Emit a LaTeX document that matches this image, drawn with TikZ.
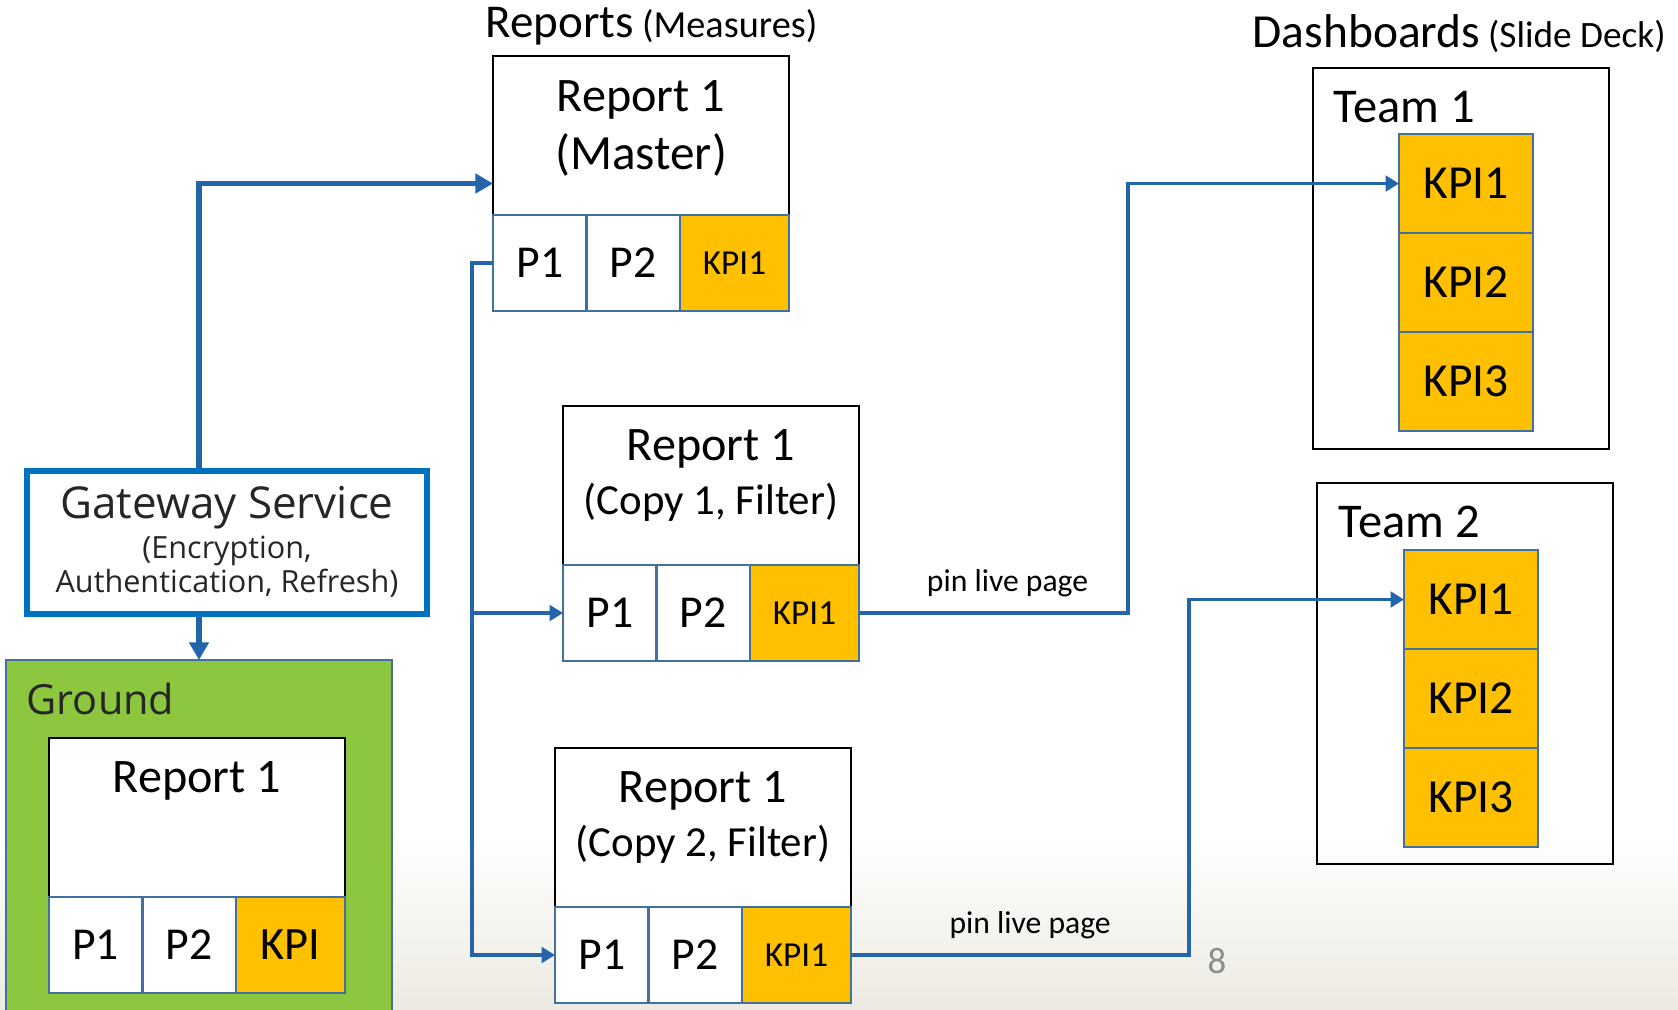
\documentclass[tikz,border=0pt]{standalone}
\usepackage{fontspec}
\setmainfont{Carlito}
\newfontfamily\segoe{Open Sans}
\usetikzlibrary{positioning,calc,arrows.meta}
\definecolor{kpiyel}{HTML}{FFC000}
\definecolor{cellblue}{HTML}{41719C}
\definecolor{linkblue}{HTML}{2364AA}
\definecolor{gwblue}{HTML}{0070C0}
\definecolor{grass}{HTML}{8DC63F}
\definecolor{paper}{HTML}{EDEAE2}

\begin{document}
\begin{tikzpicture}[
    head/.style={draw=black, line width=0.8pt, fill=white, outer sep=0pt, minimum width=2.96cm, minimum height=1.59cm, anchor=north west},
    headtxt/.style={inner sep=0pt, anchor=base, font=\fontsize{13.7}{16}\selectfont},
    subtxt/.style={headtxt, font=\fontsize{12.2}{15}\selectfont},
    cell/.style={draw=cellblue, line width=0.75pt, fill=white, outer sep=0pt, inner sep=0pt, minimum width=0.935cm, minimum height=0.96cm, font=\fontsize{13}{15}\selectfont},
    kpi/.style={cell, fill=kpiyel, minimum width=1.09cm, font=\fontsize{10}{12}\selectfont},
    bigkpi/.style={cell, fill=kpiyel, minimum width=1.34cm, minimum height=0.99cm, font=\fontsize{13.5}{16}\selectfont},
    team/.style={draw=black, line width=0.8pt, outer sep=0pt, minimum width=2.96cm, minimum height=3.81cm, anchor=north west},
    gwtxt/.style={inner sep=0pt, anchor=base, text=black!85, font=\segoe\fontsize{8.7}{10}\selectfont},
    flow/.style={draw=linkblue, line width=1pt, -{Triangle[length=3.8pt, width=4.4pt]}},
    gwflow/.style={flow, line width=1.6pt, -{Triangle[length=5pt, width=5.4pt]}},
    pinlbl/.style={inner sep=0pt, above=4.2pt, font=\fontsize{9}{11}\selectfont},
]
    \useasboundingbox (0,0) rectangle (16.78,10.09);
    \shade[top color=white, bottom color=paper] (0,0) rectangle (16.78,1.75);

    % titles
    \node[inner sep=0pt, anchor=base west] (reptitle) at (4.85,9.72) {{\fontsize{13.4}{16}\selectfont Reports} {\fontsize{10.9}{13}\selectfont (Measures)}};
    \node[inner sep=0pt, anchor=base west] (dashtitle) at (12.52,9.62) {{\fontsize{13.5}{16}\selectfont Dashboards} {\fontsize{10.6}{13}\selectfont (Slide Deck)}};

    % gateway and ground
    \node[draw=gwblue, line width=1.8pt, fill=white, minimum width=4cm, minimum height=1.43cm] (gw) at (2.27,4.665) {};
    \node[gwtxt, font=\segoe\fontsize{12.5}{15}\selectfont] (gwa) at (2.27,4.91) {Gateway Service};
    \node[gwtxt] (gwb) at (2.27,4.51) {(Encryption,};
    \node[gwtxt] (gwc) at (2.27,4.17) {Authentication, Refresh)};
    \node[draw=cellblue, line width=0.75pt, fill=grass, outer sep=0pt, minimum width=3.86cm, minimum height=3.65cm, anchor=north west] (ground) at (0.06,3.49) {};
    \node[inner sep=0pt, anchor=base west, text=black!85, font=\segoe\fontsize{11.8}{14}\selectfont] (groundt) at (0.26,2.95) {Ground};

    % report in ground
    \node[head] (r3) at (0.49,2.71) {};
    \node[headtxt] (r3a) at ($(r3.north)+(0,-0.54)$) {Report 1};
    \node[cell, anchor=north west] (r3p1) at (r3.south west) {P1};
    \node[cell, right=0pt of r3p1] (r3p2) {P2};
    \node[kpi, right=0pt of r3p2, font=\fontsize{13.2}{15}\selectfont] (r3k) {KPI};

    % master report
    \node[head] (r0) at (4.93,9.53) {};
    \node[headtxt] (r0a) at ($(r0.north)+(0,-0.55)$) {Report 1};
    \node[headtxt, font=\fontsize{14}{16}\selectfont] (r0b) at ($(r0.north)+(0,-1.13)$) {(Master)};
    \node[cell, anchor=north west] (r0p1) at (r0.south west) {P1};
    \node[cell, right=0pt of r0p1] (r0p2) {P2};
    \node[kpi, right=0pt of r0p2] (r0k) {KPI1};

    % copy 1
    \node[head] (r1) at (5.63,6.03) {};
    \node[headtxt] (r1a) at ($(r1.north)+(0,-0.54)$) {Report 1};
    \node[subtxt] (r1b) at ($(r1.north)+(0,-1.08)$) {(Copy 1, Filter)};
    \node[cell, anchor=north west] (r1p1) at (r1.south west) {P1};
    \node[cell, right=0pt of r1p1] (r1p2) {P2};
    \node[kpi, right=0pt of r1p2] (r1k) {KPI1};

    % copy 2
    \node[head] (r2) at (5.55,2.61) {};
    \node[headtxt] (r2a) at ($(r2.north)+(0,-0.54)$) {Report 1};
    \node[subtxt] (r2b) at ($(r2.north)+(0,-1.08)$) {(Copy 2, Filter)};
    \node[cell, anchor=north west] (r2p1) at (r2.south west) {P1};
    \node[cell, right=0pt of r2p1] (r2p2) {P2};
    \node[kpi, right=0pt of r2p2] (r2k) {KPI1};

    % dashboards
    \node[team] (t1) at (13.13,9.41) {};
    \node[headtxt, anchor=base west, font=\fontsize{13.8}{16}\selectfont] (t1t) at ($(t1.north west)+(0.2,-0.54)$) {Team 1};
    \node[bigkpi, anchor=north west] (t1k1) at ($(t1.north west)+(0.86,-0.66)$) {KPI1};
    \node[bigkpi, below=0pt of t1k1] (t1k2) {KPI2};
    \node[bigkpi, below=0pt of t1k2] (t1k3) {KPI3};

    \node[team] (t2) at (13.17,5.26) {};
    \node[headtxt, anchor=base west, font=\fontsize{13.8}{16}\selectfont] (t2t) at ($(t2.north west)+(0.21,-0.54)$) {Team 2};
    \node[bigkpi, anchor=north west] (t2k1) at ($(t2.north west)+(0.87,-0.67)$) {KPI1};
    \node[bigkpi, below=0pt of t2k1] (t2k2) {KPI2};
    \node[bigkpi, below=0pt of t2k2] (t2k3) {KPI3};

    % connectors
    \coordinate (gwup) at (1.99,8.255);
    \draw[gwflow] (gwup |- gw.north) -- (gwup) -- (gwup -| r0.west);
    \draw[gwflow] (gwup |- gw.south) -- (gwup |- ground.north);

    \coordinate (split) at (4.72,0);
    \draw[flow] (r0p1.west) -- (r0p1.west -| split) -- (split |- r2p1.west) -- (r2p1.west);
    \draw[flow] (split |- r1p1.west) -- (r1p1.west);

    \coordinate (bend1) at (11.28,0);
    \coordinate (bend2) at (11.89,0);
    \draw[flow] (r1k.east) -| node[pinlbl, pos=0.276] (pin1) {pin live page} (bend1 |- t1k1.west) -- (t1k1.west);
    \draw[flow] (r2k.east) -| node[pinlbl, pos=0.265] (pin2) {pin live page} (bend2 |- t2k1.west) -- (t2k1.west);

    \node[inner sep=0pt, anchor=base, text=black!45, font=\fontsize{10.5}{12}\selectfont] (pgno) at (12.17,0.36) {8};
\end{tikzpicture}
\end{document}
